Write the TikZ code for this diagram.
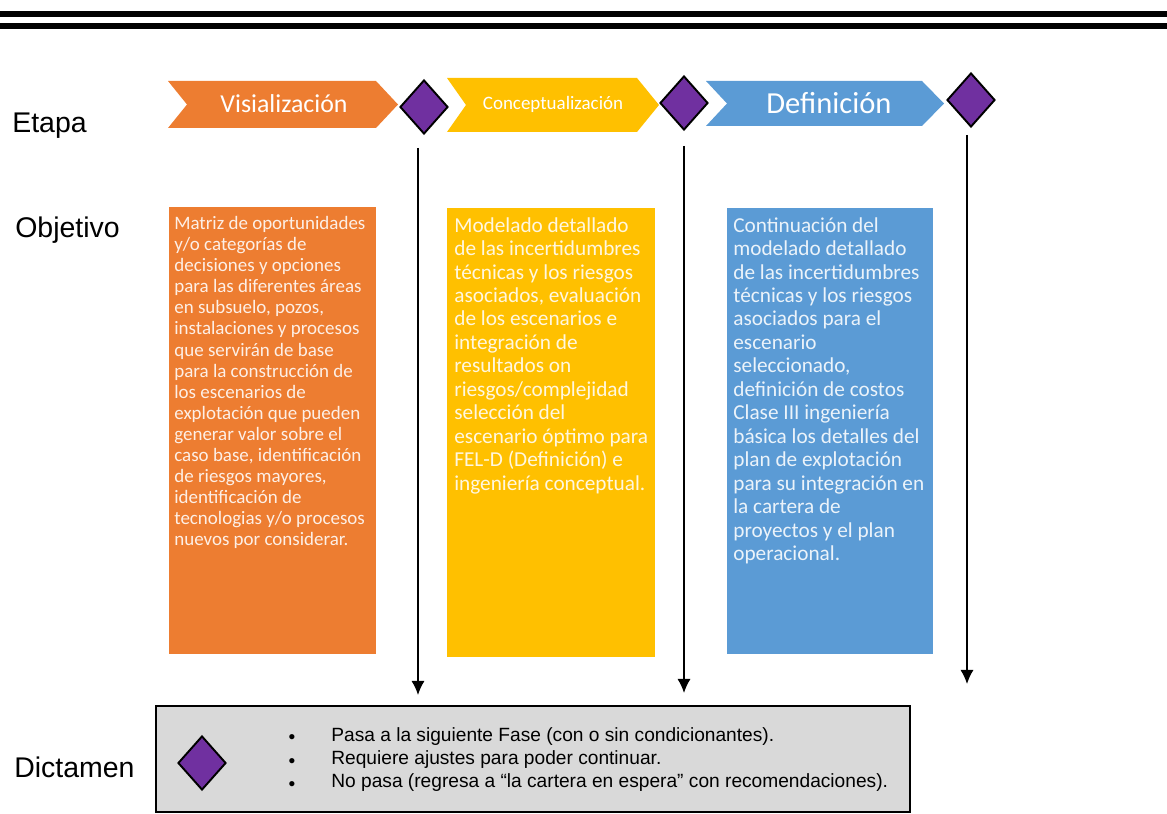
\documentclass[tikz,border=0pt]{standalone}
\usepackage{fontspec}
\setmainfont{Liberation Sans}
\newfontfamily\calfont{Carlito}
\usetikzlibrary{arrows.meta,shapes.geometric}
\definecolor{corange}{HTML}{ED7D31}
\definecolor{cyellow}{HTML}{FFC000}
\definecolor{cblue}{HTML}{5B9BD5}
\definecolor{cpurple}{HTML}{7030A0}
\definecolor{cgray}{HTML}{D9D9D9}
\begin{document}
\begin{tikzpicture}[x=0.02cm,y=-0.02cm,
  lbl/.style={font=\fontsize{16.2pt}{19pt}\selectfont, inner sep=0pt, anchor=west},
  dia/.style={diamond, draw=black, line width=1.1pt, fill=cpurple, minimum width=0.96cm, minimum height=1.08cm, inner sep=0pt},
  chevtext/.style={text=white, inner sep=0pt},
  otext/.style={inner sep=0pt, anchor=north west, align=left},
  conn/.style={line width=0.85pt, -{Latex[length=8pt,width=7.5pt]}},
  bul/.style={inner sep=0pt, font=\fontsize{10.9pt}{13pt}\selectfont},
  item/.style={inner sep=0pt, anchor=base west, font=\fontsize{10.9pt}{13pt}\selectfont}
]
\useasboundingbox (0,0) rectangle (1167,814);
% top rules
\fill[black] (0,11) rectangle (1167,17);
\fill[black] (0,23) rectangle (1167,29);

% left labels
\node[lbl] (etapa) at (12,126) {Etapa};
\node[lbl] (objetivo) at (15,230) {Objetivo};
\node[lbl] (dictamen) at (14,767) {Dictamen};

% chevrons
\fill[corange] (168,81) -- (376,81) -- (398,104.5) -- (376,128) -- (168,128) -- (187,104.5) -- cycle;
\node[chevtext, font=\calfont\fontsize{14.7pt}{16pt}\selectfont] (c1) at (284,104) {Visialización};
\fill[cyellow] (447,78) -- (637,78) -- (659,105) -- (637,132) -- (447,132) -- (466,105) -- cycle;
\node[chevtext, font=\calfont\fontsize{10.8pt}{12pt}\selectfont] (c2) at (553,104) {Conceptualización};
\fill[cblue] (706,81) -- (922,81) -- (944,103.5) -- (922,126) -- (706,126) -- (727,103.5) -- cycle;
\node[chevtext, font=\calfont\fontsize{17.4pt}{19pt}\selectfont] (c3) at (829,103) {Definición};

% diamonds
\node[dia] (d1) at (424,107) {};
\node[dia] (d2) at (684,103) {};
\node[dia] (d3) at (971,100) {};

% objective boxes
\fill[corange] (169,207) rectangle (376,654);
\node[otext, text=white!88!corange, font=\calfont\fontsize{10.8pt}{12pt}\selectfont] (t1) at (174,216) {Matriz de oportunidades\\y/o categorías de\\decisiones y opciones\\para las diferentes áreas\\en subsuelo, pozos,\\instalaciones y procesos\\que servirán de base\\para la construcción de\\los escenarios de\\explotación que pueden\\generar valor sobre el\\caso base, identificación\\de riesgos mayores,\\identificación de\\tecnologias y/o procesos\\nuevos por considerar.};

\fill[cyellow] (447,208) rectangle (655,657);
\node[otext, text=white!88!cyellow, font=\calfont\fontsize{12.1pt}{13.35pt}\selectfont] (t2) at (454,217) {Modelado detallado\\de las incertidumbres\\técnicas y los riesgos\\asociados, evaluación\\de los escenarios e\\integración de\\resultados on\\riesgos/complejidad\\selección del\\escenario óptimo para\\FEL-D (Definición) e\\ingeniería conceptual.};

\fill[cblue] (727,208) rectangle (933,654);
\node[otext, text=white!88!cblue, font=\calfont\fontsize{12.1pt}{13.35pt}\selectfont] (t3) at (733,217) {Continuación del\\modelado detallado\\de las incertidumbres\\técnicas y los riesgos\\asociados para el\\escenario\\seleccionado,\\definición de costos\\Clase III ingeniería\\básica los detalles del\\plan de explotación\\para su integración en\\la cartera de\\proyectos y el plan\\operacional.};

% dictamen box
\node[draw=black, line width=1.1pt, fill=cgray, minimum width=15.08cm, minimum height=2.12cm, inner sep=0pt] (gbox) at (533,759) {};
\node[dia] (d4) at (202,763) {};
\node[bul] (b1) at (292,739) {•};
\node[bul] (b2) at (292,763) {•};
\node[bul] (b3) at (292,786) {•};
\node[item] (i1) at (331,741) {Pasa a la siguiente Fase (con o sin condicionantes).};
\node[item] (i2) at (331,764) {Requiere ajustes para poder continuar.};
\node[item] (i3) at (331,787) {No pasa (regresa a “la cartera en espera” con recomendaciones).};

% connectors
\coordinate (e1) at (418,695);
\coordinate (e2) at (684,693);
\coordinate (e3) at (967,684);
\draw[conn] (d1.south) ++(-6,13) -- (e1);
\draw[conn] (d2.south) ++(0,15) -- (e2);
\draw[conn] (d3.south) ++(-4,7) -- (e3);
\end{tikzpicture}
\end{document}
